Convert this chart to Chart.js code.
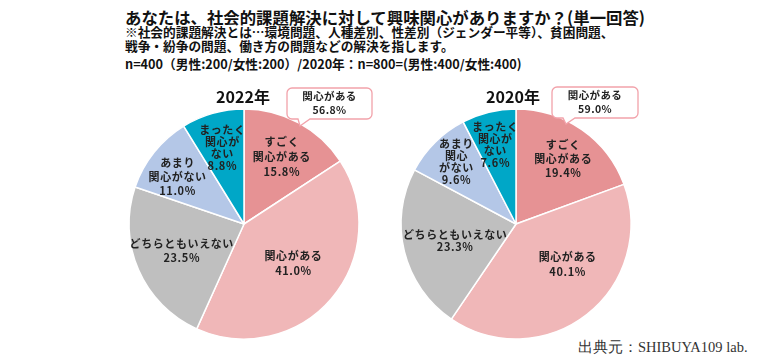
<!DOCTYPE html>
<html lang="ja">
<head>
<meta charset="utf-8">
<script src="https://cdn.jsdelivr.net/npm/chart.js@4"></script>
<style>
  html, body { margin: 0; padding: 0; background: #fff; }
  body { width: 768px; height: 363px; position: relative; overflow: hidden;
         font-family: "Noto Sans CJK JP", "Noto Sans", sans-serif; color: #111; }
  .txt { position: absolute; white-space: nowrap; }
  #title { left: 125px; top: 7px; font-size: 16.4px; font-weight: bold; line-height: 20px; }
  .sub { left: 125px; font-size: 12.7px; font-weight: bold; line-height: 15px; }
  #source { left: 578px; top: 338px; font-family: "Liberation Serif", "DejaVu Serif", serif;
            font-size: 14.5px; line-height: 18px; color: #333; }
  canvas { position: absolute; }
</style>
</head>
<body>
<div class="txt" id="title">あなたは、社会的課題解決に対して興味関心がありますか？(単一回答)</div>
<div class="txt sub" style="top:24px">※社会的課題解決とは…環境問題、人種差別、性差別（ジェンダー平等）、貧困問題、</div>
<div class="txt sub" style="top:38px">戦争・紛争の問題、働き方の問題などの解決を指します。</div>
<div class="txt sub" style="top:56px">n=400（男性:200/女性:200）/2020年：n=800=(男性:400/女性:400)</div>
<div class="txt" id="source">出典元：SHIBUYA109 lab.</div>

<canvas id="pie2022" width="260" height="270" style="left:120px; top:80px"></canvas>
<canvas id="pie2020" width="260" height="270" style="left:390px; top:80px"></canvas>

<script>
// answer categories (clockwise from 12 o'clock)
const categories = ['すごく関心がある', '関心がある', 'どちらともいえない', 'あまり関心がない', 'まったく関心がない'];
const values2022 = [15.8, 41.0, 23.5, 11.0, 8.8];
const values2020 = [19.4, 40.1, 23.3, 9.6, 7.6];
const years = ['2022年', '2020年'];
const interestTotals = [56.8, 59.0];   // 「関心がある」合計 as printed in the callouts

// how each category name is broken into lines inside the slices
const lines2022 = [['すごく', '関心がある'], ['関心がある'], ['どちらともいえない'], ['あまり', '関心がない'], ['まったく', '関心が', 'ない']];
const lines2020 = [['すごく', '関心がある'], ['関心がある'], ['どちらともいえない'], ['あまり', '関心', 'がない'], ['まったく', '関心が', 'ない']];

const sliceColors = ['#E69294', '#F0B7B8', '#BFBFBF', '#B4C7E7', '#00A7C7'];

// label placement: fraction of radius, angle nudge (deg), line height
const place2022 = [[0.67, 1, 15], [0.55, -2, 15], [0.59, 0, 14], [0.71, -3, 14], [0.69, 0, 12]];
const place2020 = [[0.70, 1, 14], [0.57, -14, 15], [0.55, -2, 12], [0.75, 1, 12], [0.71, -1, 12]];

const FONT = '"Noto Sans CJK JP", "Noto Sans", sans-serif';

const sliceLabels = {
    id: 'sliceLabels',
    afterDatasetsDraw(chart, args, opts) {
        const ctx = chart.ctx;
        const arcs = chart.getDatasetMeta(0).data;
        const values = chart.data.datasets[0].data;
        ctx.save();
        ctx.fillStyle = '#222';
        ctx.font = 'bold 11px ' + FONT;
        ctx.letterSpacing = '0.6px';
        ctx.textAlign = 'center';
        ctx.textBaseline = 'middle';
        arcs.forEach((arc, i) => {
            const [f, nudge, lh] = opts.place[i];
            const mid = (arc.startAngle + arc.endAngle) / 2 + nudge * Math.PI / 180;
            const cx = arc.x + Math.cos(mid) * arc.outerRadius * f;
            const cy = arc.y + Math.sin(mid) * arc.outerRadius * f;
            const rows = opts.lines[i].concat([values[i].toFixed(1) + '%']);
            const y0 = cy - (rows.length - 1) * lh / 2;
            rows.forEach((t, k) => ctx.fillText(t, cx, y0 + k * lh));
        });
        ctx.restore();
    },
    afterDraw(chart, args, opts) {
        const ctx = chart.ctx;
        ctx.save();
        // year heading
        ctx.fillStyle = '#111';
        ctx.font = 'bold 16px ' + FONT;
        ctx.textAlign = 'center';
        ctx.textBaseline = 'middle';
        ctx.fillText(opts.year, opts.yearX, 17);

        // callout box with a tail
        const b = opts.box;
        const r = 5;
        const x0 = b.x, y0 = b.y, x1 = b.x + b.w, y1 = b.y + b.h;
        ctx.beginPath();
        ctx.moveTo(x0 + r, y0);
        ctx.lineTo(x1 - r, y0);
        ctx.arcTo(x1, y0, x1, y0 + r, r);
        ctx.lineTo(x1, y1 - r);
        ctx.arcTo(x1, y1, x1 - r, y1, r);
        ctx.lineTo(b.tailR, y1);
        ctx.lineTo(b.tipX, b.tipY);
        ctx.lineTo(b.tailL, y1);
        ctx.lineTo(x0 + r, y1);
        ctx.arcTo(x0, y1, x0, y1 - r, r);
        ctx.lineTo(x0, y0 + r);
        ctx.arcTo(x0, y0, x0 + r, y0, r);
        ctx.closePath();
        ctx.fillStyle = '#fff';
        ctx.fill();
        ctx.strokeStyle = '#F2A2AA';
        ctx.lineWidth = 1.3;
        ctx.stroke();

        ctx.fillStyle = '#222';
        ctx.font = 'bold 10.5px ' + FONT;
        ctx.letterSpacing = '0.4px';
        const mx = (x0 + x1) / 2;
        ctx.fillText('関心がある', mx, y0 + 8);
        ctx.fillText(opts.total.toFixed(1) + '%', mx, y0 + 22);
        ctx.restore();
    }
};

function makePie(id, values, lines, place, yearIdx, padding, yearX, box) {
    return new Chart(document.getElementById(id), {
        type: 'pie',
        data: {
            labels: categories,
            datasets: [{
                data: values,
                backgroundColor: sliceColors,
                borderColor: '#ffffff',
                borderWidth: 1.5
            }]
        },
        options: {
            responsive: false,
            animation: false,
            radius: 115,
            layout: { padding: padding },
            plugins: {
                legend: { display: false },
                tooltip: { enabled: false },
                sliceLabels: {
                    lines: lines,
                    place: place,
                    year: years[yearIdx],
                    yearX: yearX,
                    total: interestTotals[yearIdx],
                    box: box
                }
            }
        },
        plugins: [sliceLabels]
    });
}

makePie('pie2022', values2022, lines2022, place2022, 0,
    { left: 9, right: 21, top: 29, bottom: 11 }, 123,
    { x: 167, y: 8, w: 85, h: 31, tailL: 178, tailR: 190, tipX: 180, tipY: 46 });

makePie('pie2020', values2020, lines2020, place2020, 1,
    { left: 11, right: 19, top: 29, bottom: 11 }, 123,
    { x: 162, y: 7, w: 86, h: 31, tailL: 173, tailR: 185, tipX: 176, tipY: 44 });
</script>
</body>
</html>
